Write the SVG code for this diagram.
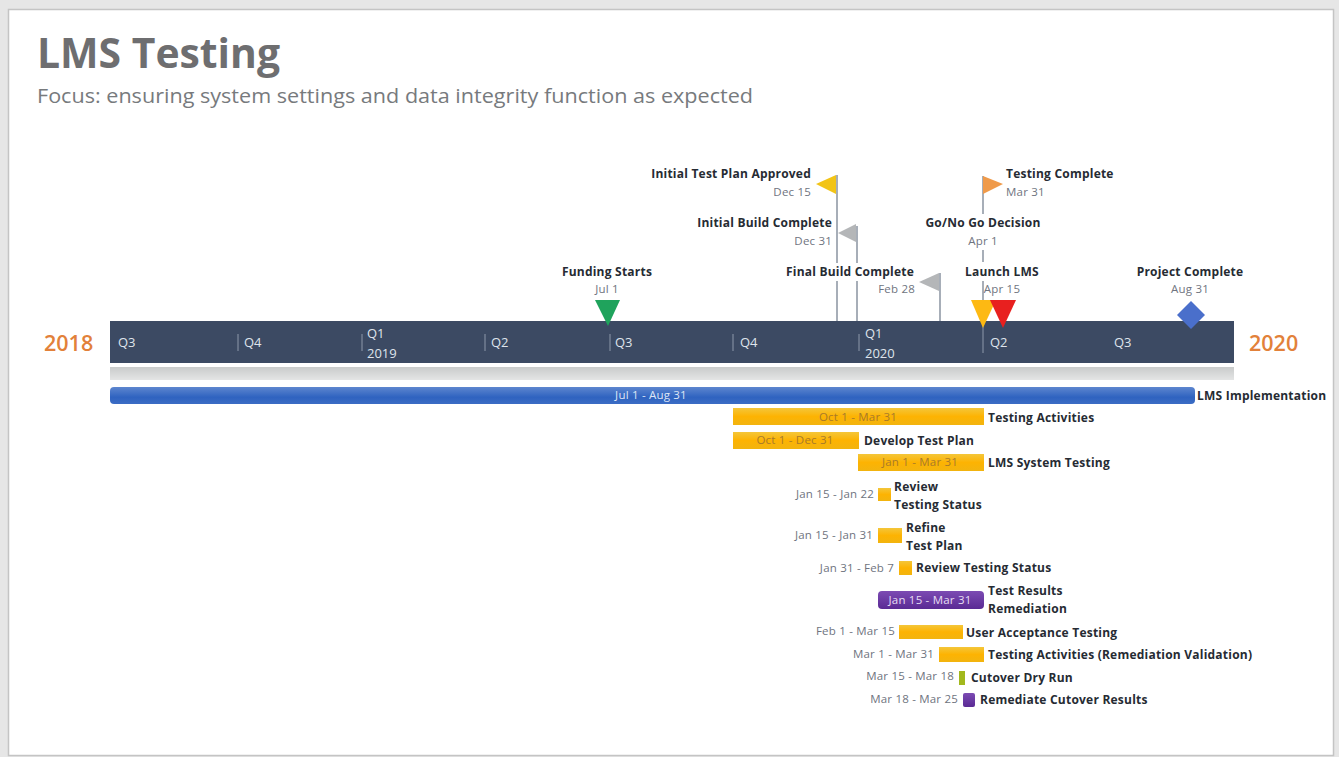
<svg xmlns="http://www.w3.org/2000/svg" width="1339" height="757" viewBox="0 0 1339 757">
<style>
text{font-family:"Open Sans","Noto Sans","Liberation Sans",sans-serif}
.n{font-size:12px;font-weight:700;fill:#262b33;letter-spacing:.22px}
.d{font-size:11.500px;fill:#6f7480;letter-spacing:.2px}
.q{font-size:13px;fill:#dfe4ec}
.y{font-size:21.500px;font-weight:600;fill:#e2813a}
.stem{stroke:#8a93a0;stroke-width:1.5;fill:none}
.tick{stroke:#8d98ab;stroke-width:1;fill:none}
</style>
<defs>
<linearGradient id="go" x1="0" y1="0" x2="0" y2="1"><stop offset="0" stop-color="#f4c63a"/><stop offset=".5" stop-color="#fdb302"/><stop offset="1" stop-color="#f2b40f"/></linearGradient>
<linearGradient id="gb" x1="0" y1="0" x2="0" y2="1"><stop offset="0" stop-color="#5d86cf"/><stop offset=".6" stop-color="#2f63c0"/><stop offset="1" stop-color="#3b6cc4"/></linearGradient>
<linearGradient id="gp" x1="0" y1="0" x2="0" y2="1"><stop offset="0" stop-color="#7c4bb3"/><stop offset="1" stop-color="#5a2a94"/></linearGradient>
<linearGradient id="gs" x1="0" y1="0" x2="0" y2="1"><stop offset="0" stop-color="#c9cbcb"/><stop offset="1" stop-color="#e4e5e5"/></linearGradient>
</defs>
<rect width="1339" height="757" fill="#e6e6e6"/>
<rect x="8.500" y="9.500" width="1325" height="746" fill="#fff" stroke="#c4c4c4" stroke-width="1.500"/>
<text x="37" y="68" font-size="42" font-weight="700" fill="#6e6e70" textLength="243" lengthAdjust="spacingAndGlyphs">LMS Testing</text>
<text x="37" y="103" font-size="20" fill="#777a7d" textLength="716" lengthAdjust="spacingAndGlyphs">Focus: ensuring system settings and data integrity function as expected</text>

<g id="connectors">
<line class="stem" x1="837" y1="175" x2="837" y2="263"/>
<line class="stem" x1="837" y1="281" x2="837" y2="321"/>
<line class="stem" x1="857" y1="226" x2="857" y2="263"/>
<line class="stem" x1="857" y1="281" x2="857" y2="321"/>
<line class="stem" x1="940" y1="273" x2="940" y2="321"/>
<line class="stem" x1="983" y1="176" x2="983" y2="214"/>
<line class="stem" x1="983" y1="250" x2="983" y2="262"/>
<line class="stem" x1="983" y1="281" x2="983" y2="321"/>
</g>

<g id="band">
<rect x="110" y="321" width="1124" height="42" fill="#3c4a63"/>
<rect x="110" y="367" width="1124" height="13" fill="url(#gs)"/>
<g class="ticks">
<line class="tick" x1="238" y1="334" x2="238" y2="351"/>
<line class="tick" x1="362" y1="334" x2="362" y2="351"/>
<line class="tick" x1="485" y1="334" x2="485" y2="351"/>
<line class="tick" x1="610" y1="334" x2="610" y2="351"/>
<line class="tick" x1="733" y1="334" x2="733" y2="351"/>
<line class="tick" x1="859" y1="334" x2="859" y2="351"/>
<line class="tick" x1="983" y1="321" x2="983" y2="353"/>
</g>
<text class="q" x="118" y="347">Q3</text>
<text class="q" x="244" y="347">Q4</text>
<text class="q" x="367" y="338">Q1</text>
<text class="q" x="367" y="358">2019</text>
<text class="q" x="491" y="347">Q2</text>
<text class="q" x="615" y="347">Q3</text>
<text class="q" x="740" y="347">Q4</text>
<text class="q" x="865" y="338">Q1</text>
<text class="q" x="865" y="358">2020</text>
<text class="q" x="990" y="347">Q2</text>
<text class="q" x="1114" y="347">Q3</text>
<text class="y" x="44" y="351">2018</text>
<text class="y" x="1249" y="351">2020</text>
</g>

<g id="m-funding"><text class="n" x="607" y="276" text-anchor="middle">Funding Starts</text><text class="d" x="607" y="293" text-anchor="middle">Jul 1</text><path d="M595 300H620L608 326Z" fill="#1fa35c"/></g>
<g id="m-plan"><text class="n" x="811" y="178" text-anchor="end">Initial Test Plan Approved</text><text class="d" x="811" y="196" text-anchor="end">Dec 15</text><path d="M836 175V194L816 184Z" fill="#f2c417"/></g>
<g id="m-build"><text class="n" x="832" y="227" text-anchor="end">Initial Build Complete</text><text class="d" x="832" y="245" text-anchor="end">Dec 31</text><path d="M856 224V242L838 233Z" fill="#b4b6b8"/></g>
<g id="m-final"><text class="n" x="914" y="276" text-anchor="end">Final Build Complete</text><text class="d" x="915" y="293" text-anchor="end">Feb 28</text><path d="M939 273V291L919 282Z" fill="#b4b6b8"/></g>
<g id="m-testing"><text class="n" x="1006" y="178">Testing Complete</text><text class="d" x="1006" y="196">Mar 31</text><path d="M983 176V194L1003 184Z" fill="#ef9a4a"/></g>
<g id="m-gonogo"><text class="n" x="983" y="227" text-anchor="middle">Go/No Go Decision</text><text class="d" x="983" y="245" text-anchor="middle">Apr 1</text><path d="M971 300H996L983 328Z" fill="#fdb913"/></g>
<g id="m-launch"><text class="n" x="1002" y="276" text-anchor="middle">Launch LMS</text><text class="d" x="1002" y="293" text-anchor="middle">Apr 15</text><path d="M990 300H1016L1003 328Z" fill="#e8201f"/></g>
<g id="m-project"><text class="n" x="1190" y="276" text-anchor="middle">Project Complete</text><text class="d" x="1190" y="293" text-anchor="middle">Aug 31</text><path d="M1191 301L1205 315L1191 329L1177 315Z" fill="#4a6fcb"/></g>

<g id="t-lms"><rect x="110" y="387" width="1085" height="17" rx="4" fill="url(#gb)"/><text class="d" x="651" y="399" text-anchor="middle" style="fill:#dfe6f5">Jul 1 - Aug 31</text><text class="n" x="1197" y="400">LMS Implementation</text></g>
<g id="t-activities"><rect x="733" y="408" width="251" height="17" fill="url(#go)"/><text class="d" x="858" y="421" text-anchor="middle" style="fill:#a87a2a">Oct 1 - Mar 31</text><text class="n" x="988" y="422">Testing Activities</text></g>
<g id="t-develop"><rect x="733" y="432" width="126" height="17" fill="url(#go)"/><text class="d" x="795" y="444" text-anchor="middle" style="fill:#a87a2a">Oct 1 - Dec 31</text><text class="n" x="864" y="445">Develop Test Plan</text></g>
<g id="t-system"><rect x="858" y="454" width="126" height="17" fill="url(#go)"/><text class="d" x="920" y="466" text-anchor="middle" style="fill:#a87a2a">Jan 1 - Mar 31</text><text class="n" x="988" y="467">LMS System Testing</text></g>
<g id="t-review1"><text class="d" x="874" y="498" text-anchor="end">Jan 15 - Jan 22</text><rect x="878" y="488" width="13" height="13" fill="url(#go)"/><text class="n" x="894" y="491">Review</text><text class="n" x="894" y="509">Testing Status</text></g>
<g id="t-refine"><text class="d" x="873" y="539" text-anchor="end">Jan 15 - Jan 31</text><rect x="878" y="528" width="24" height="15" fill="url(#go)"/><text class="n" x="906" y="532">Refine</text><text class="n" x="906" y="550">Test Plan</text></g>
<g id="t-review2"><text class="d" x="894" y="572" text-anchor="end">Jan 31 - Feb 7</text><rect x="899" y="561" width="13" height="14" fill="url(#go)"/><text class="n" x="916" y="572">Review Testing Status</text></g>
<g id="t-remediation"><rect x="878" y="591" width="106" height="18" rx="4" fill="url(#gp)"/><text class="d" x="930" y="604" text-anchor="middle" style="fill:#e6ddf3">Jan 15 - Mar 31</text><text class="n" x="988" y="595">Test Results</text><text class="n" x="988" y="613">Remediation</text></g>
<g id="t-uat"><text class="d" x="895" y="635" text-anchor="end">Feb 1 - Mar 15</text><rect x="899" y="625" width="64" height="14" fill="url(#go)"/><text class="n" x="966" y="637">User Acceptance Testing</text></g>
<g id="t-validation"><text class="d" x="934" y="658" text-anchor="end">Mar 1 - Mar 31</text><rect x="939" y="647" width="45" height="15" fill="url(#go)"/><text class="n" x="988" y="659">Testing Activities (Remediation Validation)</text></g>
<g id="t-dry"><text class="d" x="954" y="680" text-anchor="end">Mar 15 - Mar 18</text><rect x="959" y="671" width="6" height="14" fill="#a2b81d"/><text class="n" x="971" y="682">Cutover Dry Run</text></g>
<g id="t-cutover"><text class="d" x="958" y="703" text-anchor="end">Mar 18 - Mar 25</text><rect x="963" y="693" width="12" height="14" rx="2" fill="url(#gp)"/><text class="n" x="980" y="704">Remediate Cutover Results</text></g>
</svg>
